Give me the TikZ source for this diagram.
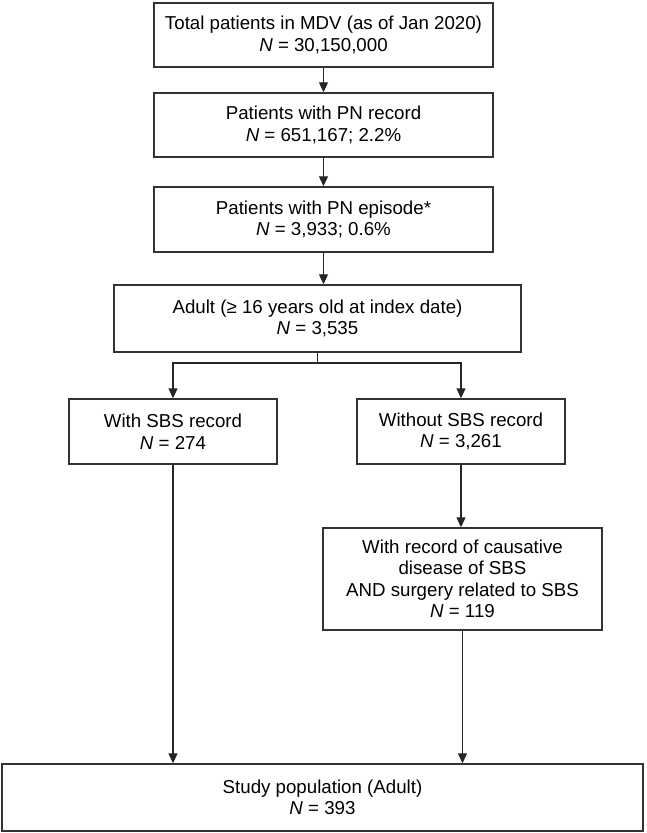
\documentclass[tikz,border=0pt]{standalone}
\usepackage{fontspec}
\setmainfont{Liberation Sans}
\usepackage{tikz}
\usetikzlibrary{arrows.meta}

\begin{document}
\begin{tikzpicture}[x=1pt, y=-1pt,
    flowbox/.style={draw=black!80, line width=1.4pt, rectangle, align=center, inner sep=0pt,
        font=\fontsize{18.7}{21.5}\selectfont},
    arr/.style={draw=black!85, line width=1.1pt, -{Triangle[length=10pt,width=9pt]}},
    ln/.style={draw=black!85, line width=1.1pt}]
            \useasboundingbox (0, 0) rectangle (646, 833);
            \node (total) at (323.5, 35) [flowbox, minimum width=339pt, minimum height=64pt] {Total patients in MDV (as of Jan 2020)\\\textit{N} = 30,150,000};
            \node (record) at (323.5, 125) [flowbox, minimum width=339pt, minimum height=64pt] {Patients with PN record\\\textit{N} = 651,167; 2.2\%};
            \node (episode) at (323.5, 219.5) [flowbox, minimum width=339pt, minimum height=65pt] {Patients with PN episode*\\\textit{N} = 3,933; 0.6\%};
            \node (adult) at (317.5, 318.5) [flowbox, minimum width=407pt, minimum height=67pt] {Adult (≥ 16 years old at index date)\\\textit{N} = 3,535};
            \node (withsbs) at (173, 431.5) [flowbox, minimum width=208pt, minimum height=65pt] {With SBS record\\\textit{N} = 274};
            \node (withoutsbs) at (461, 431.5) [flowbox, minimum width=208pt, minimum height=65pt] {Without SBS record\\\textit{N} = 3,261};
            \node (causative) at (462.5, 579) [flowbox, minimum width=279pt, minimum height=102pt] {With record of causative\\disease of SBS\\AND surgery related to SBS\\\textit{N} = 119};
            \node (study) at (322.5, 797.5) [flowbox, minimum width=641pt, minimum height=67pt] {Study population (Adult)\\\textit{N} = 393};
            \coordinate (split) at (317.5, 363);
            \draw [arr] (total.south) -- (record.north);
            \draw [arr] (record.south) -- (episode.north);
            \draw [arr] (episode.south) -- (episode.south |- adult.north);
            \draw [ln] (adult.south) -- (split);
            \draw [arr] (split) -| (withsbs.north);
            \draw [arr] (split) -| (withoutsbs.north);
            \draw [arr] (withoutsbs.south) -- (withoutsbs.south |- causative.north);
            \draw [arr] (withsbs.south) -- (withsbs.south |- study.north);
            \draw [arr] (causative.south) -- (causative.south |- study.north);
        \end{tikzpicture}
\end{document}
